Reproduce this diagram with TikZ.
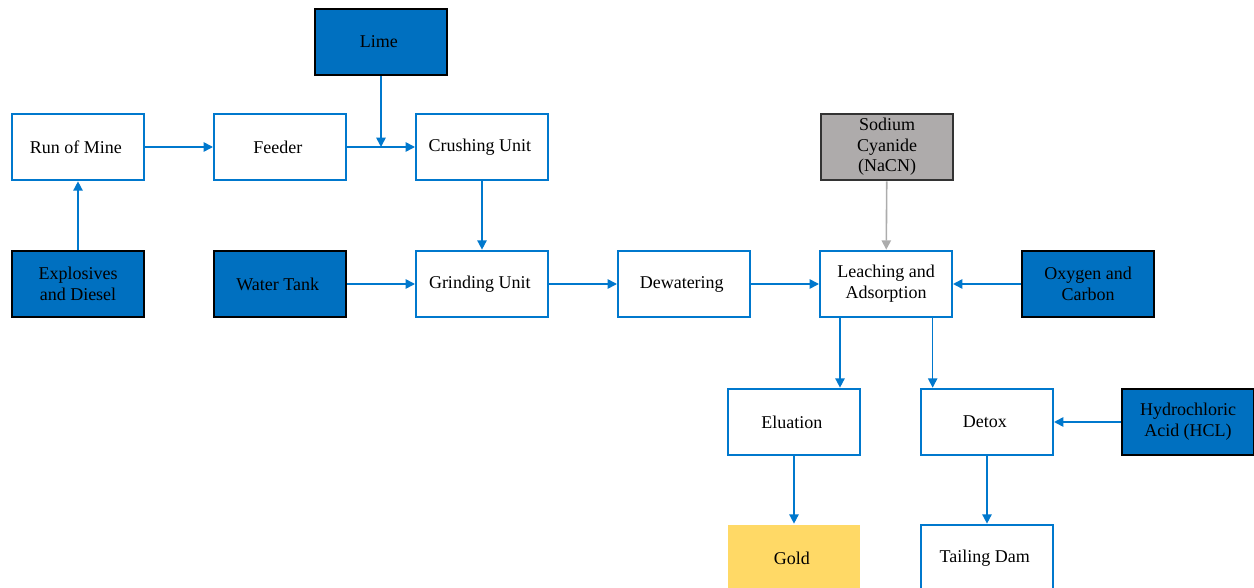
\documentclass[tikz,border=0pt]{standalone}
\usepackage{fontspec}
\setmainfont{Liberation Serif}
\usetikzlibrary{arrows.meta}

\definecolor{flowblue}{RGB}{0,112,192}
\definecolor{lineblue}{RGB}{0,120,205}
\definecolor{ashgrey}{RGB}{174,171,171}
\definecolor{goldfill}{RGB}{255,217,102}
\definecolor{arrowgrey}{RGB}{172,172,172}

\tikzset{
	unit/.style = { draw = lineblue, line width = 1.5pt, fill = white, minimum width = 99pt, minimum height = 50pt, inner sep = 0pt, align = center, font = \fontsize{13.5}{15.5}\selectfont },
	supply/.style = { unit, draw = black, fill = flowblue },
	reagent/.style = { unit, draw = black!80, fill = ashgrey },
	product/.style = { unit, draw = none, fill = goldfill },
	flow/.style = { draw = lineblue, line width = 1.2pt, -{Triangle[length=7pt, width=7pt]} },
	greyflow/.style = { flow, draw = arrowgrey },
}

\begin{document}
\begin{tikzpicture}[x=0.75pt, y=-0.75pt]
		\clip ( 0, 0 ) rectangle ( 1254, 588 );

		% mining and crushing
		\node [supply] (lime)     at ( 381, 42 )   { Lime };
		\node [unit]   (mine)     at ( 78, 147 )   { Run of Mine };
		\node [unit]   (feeder)   at ( 280, 147 )  { Feeder };
		\node [unit]   (crushing) at ( 482, 147 )  { Crushing Unit };
		\node [supply] (blasting) at ( 78, 284 )   { Explosives \\ and Diesel };
		\node [supply] (water)    at ( 280, 284 )  { Water Tank };
		\node [unit]   (grinding) at ( 482, 284 )  { Grinding Unit };
		\node [unit]   (dewater)  at ( 684, 284 )  { Dewatering };

		% leaching
		\node [reagent] (cyanide) at ( 887, 147 )  { Sodium \\ Cyanide \\ (NaCN) };
		\node [unit]    (leach)   at ( 886, 284 )  { Leaching and \\ Adsorption };
		\node [supply]  (oxygen)  at ( 1088, 284 ) { Oxygen and \\ Carbon };

		% recovery and tailings
		\node [unit]    (eluation) at ( 794, 422 )  { Eluation };
		\node [unit]    (detox)    at ( 987, 422 )  { Detox };
		\node [supply]  (acid)     at ( 1188, 422 ) { Hydrochloric \\ Acid (HCL) };
		\node [product] (gold)     at ( 794, 558 )  { Gold };
		\node [unit]    (tailing)  at ( 987, 558 )  { Tailing Dam };

		% arrows
		\coordinate (limedrop) at ( 381, 147 );
		\draw [flow] (blasting) -- (mine);
		\draw [flow] (mine) -- (feeder);
		\draw [flow] (feeder) -- (crushing);
		\draw [flow] (lime) -- (limedrop);
		\draw [flow] (crushing) -- (grinding);
		\draw [flow] (water) -- (grinding);
		\draw [flow] (grinding) -- (dewater);
		\draw [flow] (dewater) -- (leach);
		\draw [greyflow] (cyanide) -- (leach);
		\draw [flow] (oxygen) -- (leach);
		\draw [flow] ([xshift=-34.5pt]leach.south) -- ([xshift=-34.5pt]leach.south |- eluation.north);
		\draw [flow] ([xshift=35pt]leach.south) -- ([xshift=35pt]leach.south |- detox.north);
		\draw [flow] (acid) -- (detox);
		\draw [flow] (eluation) -- (gold);
		\draw [flow] (detox) -- (tailing);
	\end{tikzpicture}
\end{document}
